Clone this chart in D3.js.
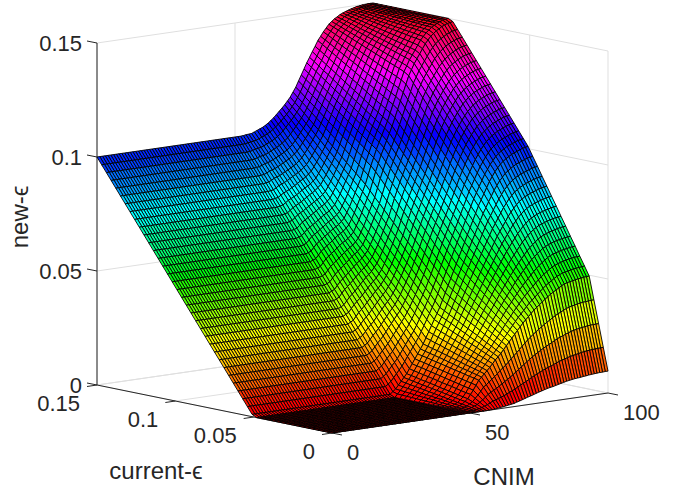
<!DOCTYPE html>
<html lang="en">
<head>
<meta charset="UTF-8">
<title>new-eps surface</title>
<script src="https://d3js.org/d3.v7.min.js"></script>
<style>
    body { margin: 0; padding: 0; background: #fff; }
    text { font-family: "Liberation Sans", Arial, sans-serif; fill: #262626; }
</style>
</head>
<body>
<div id="main"></div>
<script>
// axis ticks
var zTicks = [0, 0.05, 0.1, 0.15];
var zTickLabels = ['0', '0.05', '0.1', '0.15'];
var epsTicks = [0, 0.05, 0.1, 0.15];
var epsTickLabels = ['0', '0.05', '0.1', '0.15'];
var cnimTicks = [0, 50, 100];
var cnimTickLabels = ['0', '50', '100'];

// grid of the surface: 51 current-eps rows, 101 CNIM columns
var epsGrid = d3.range(51).map(function(i) { return i * 0.003; });
var cnimGrid = d3.range(101);

// new-eps x 10000. one row per current-eps,
// columns are CNIM 50,51..100. left of CNIM 50 the surface does not change
var newEps = [
[0,0,0,0,0,0,0,1,1,2,3,5,6,8,10,12,14,18,21,25,29,33,36,40,44,48,51,55,58,61,63,66,69,72,75,78,80,82,84,85,86,88,89,91,92,93,94,95,95,96,96],
[0,0,1,2,4,6,9,13,18,24,30,34,38,42,47,52,58,63,69,76,83,89,95,102,109,115,121,127,133,138,143,147,152,157,162,166,170,173,177,179,182,184,187,189,191,192,193,194,195,195,196],
[0,1,3,5,8,13,18,26,35,45,56,63,70,77,85,93,101,109,117,126,136,145,155,164,174,183,192,200,208,215,223,229,236,242,249,255,261,265,270,274,279,282,285,287,289,291,293,294,295,295,296],
[0,2,4,7,11,18,26,39,52,67,83,92,102,112,122,133,145,155,165,177,190,201,213,225,238,250,262,272,283,292,302,310,319,327,335,343,351,357,363,369,375,379,383,385,388,390,392,393,394,395,396],
[0,2,5,10,15,25,35,52,69,89,109,121,134,146,159,173,188,200,213,228,243,258,273,288,303,317,332,344,357,369,382,392,402,412,422,431,441,448,456,463,471,476,481,483,486,488,491,492,494,495,496],
[0,3,7,12,18,28,39,56,74,94,114,127,140,153,167,182,197,210,224,240,257,273,289,305,321,337,353,366,380,394,408,419,431,442,453,464,475,483,492,500,508,513,519,521,524,527,530,531,533,534,536],
[0,4,9,15,22,32,43,60,78,98,118,132,146,160,175,191,207,221,236,253,270,287,305,322,339,356,373,388,404,419,434,447,460,472,485,497,509,518,527,536,545,550,556,559,563,566,569,571,573,574,575],
[0,5,11,18,25,36,48,65,83,103,123,137,152,167,182,199,216,231,247,265,284,302,321,339,358,376,394,410,427,443,460,474,489,502,516,529,542,552,563,572,582,588,594,597,601,604,607,609,612,613,615],
[0,6,13,21,29,40,52,70,88,108,128,142,157,173,190,208,226,242,258,277,297,317,337,356,376,395,414,432,450,468,486,502,518,533,548,562,576,587,599,608,618,624,631,635,640,643,646,648,651,652,654],
[0,7,15,23,32,44,56,74,92,112,132,147,163,180,198,216,235,252,270,290,311,332,353,373,394,414,435,454,474,493,512,529,547,563,579,594,610,622,634,644,655,662,669,673,678,681,685,688,691,692,694],
[0,8,17,26,36,48,60,78,97,117,137,153,169,187,206,225,244,262,281,303,325,347,369,390,412,434,456,476,497,517,538,557,576,593,610,627,644,657,670,681,692,699,707,711,716,720,724,727,730,731,733],
[0,9,18,28,39,52,65,83,102,122,142,158,175,194,213,233,254,273,292,315,338,361,384,407,431,453,476,498,520,542,564,585,606,624,642,659,677,691,706,717,729,736,744,749,755,758,762,765,769,771,773],
[0,10,20,31,43,56,69,88,107,127,147,164,181,201,221,242,263,283,303,327,352,376,400,424,449,473,497,520,543,566,590,612,635,654,673,692,711,726,742,754,766,774,782,787,793,797,801,804,808,810,812],
[0,11,22,34,46,59,73,92,111,131,151,169,187,208,229,250,272,293,315,340,366,391,416,441,467,492,518,542,567,591,616,640,664,684,704,724,745,761,777,790,803,811,820,825,831,835,840,844,848,850,852],
[0,12,24,37,50,63,77,96,116,136,156,174,193,215,237,259,282,304,326,352,379,405,432,458,485,511,538,564,590,616,642,667,693,714,736,757,779,796,813,826,840,848,857,863,870,874,879,883,887,889,891],
[0,13,26,39,53,67,82,101,121,141,161,179,198,221,244,267,291,314,337,365,393,420,448,476,504,531,559,586,613,640,668,695,722,744,767,789,812,830,849,862,876,885,895,901,908,912,917,921,926,928,931],
[0,14,28,42,57,71,86,105,125,145,165,184,204,228,252,276,300,324,349,377,406,435,464,493,522,550,579,608,637,665,694,722,751,775,799,822,846,865,884,898,913,922,932,939,947,951,956,961,966,968,970],
[10,20,30,45,60,75,90,110,130,150,170,190,210,235,260,285,310,335,360,390,420,450,480,510,540,570,600,630,660,690,720,750,780,805,830,855,880,900,920,935,950,960,970,977,985,990,995,1000,1005,1007,1010],
[40,49,59,74,89,104,119,138,158,177,196,215,235,259,283,308,333,358,384,414,444,474,505,535,566,596,626,656,686,716,746,776,807,832,858,883,908,928,948,963,979,989,999,1007,1015,1020,1025,1030,1035,1037,1040],
[70,79,89,104,119,133,148,166,185,204,223,241,259,282,306,331,356,382,408,438,468,499,530,560,591,621,651,681,711,742,773,803,834,860,886,911,936,956,976,992,1008,1018,1029,1036,1044,1049,1055,1060,1065,1067,1070],
[100,109,118,133,148,162,176,194,213,231,249,266,284,306,329,354,379,405,431,461,491,523,555,586,617,647,677,707,737,768,799,830,861,887,914,939,964,984,1004,1020,1036,1047,1058,1066,1074,1079,1085,1090,1095,1097,1100],
[130,138,147,162,177,191,205,222,240,257,275,292,309,331,353,378,403,429,455,485,515,547,580,611,643,673,703,732,762,793,825,856,888,915,943,968,993,1013,1033,1049,1065,1076,1087,1095,1104,1109,1115,1120,1125,1127,1130],
[160,168,177,192,207,220,234,251,268,284,301,317,333,354,376,401,426,452,479,509,539,572,605,636,668,698,728,758,788,819,851,882,914,942,971,996,1021,1041,1061,1077,1094,1105,1117,1125,1133,1139,1145,1150,1155,1157,1160],
[190,198,206,221,236,249,263,279,295,311,328,343,358,378,399,424,449,476,503,533,563,596,630,662,694,724,754,784,814,846,878,909,941,970,999,1024,1049,1069,1089,1106,1123,1134,1146,1154,1163,1169,1175,1180,1185,1187,1190],
[220,228,236,251,266,278,291,307,323,338,354,368,383,402,422,447,472,499,526,556,586,620,655,687,719,749,779,809,839,871,904,936,968,997,1027,1052,1077,1097,1117,1134,1151,1163,1176,1184,1193,1199,1205,1210,1215,1217,1220],
[250,257,265,280,295,307,320,335,350,365,380,394,408,426,445,470,495,522,550,580,610,645,680,712,745,775,805,835,865,897,930,962,995,1025,1055,1080,1105,1125,1145,1162,1180,1192,1205,1214,1223,1229,1235,1240,1245,1247,1250],
[280,287,294,309,324,336,349,363,378,392,406,419,432,450,468,493,518,546,574,604,634,669,705,738,771,801,831,861,891,923,956,989,1022,1052,1083,1108,1133,1153,1173,1191,1209,1221,1234,1243,1252,1258,1265,1270,1275,1277,1280],
[310,317,324,339,354,366,378,391,405,419,433,445,457,474,491,516,541,569,598,628,658,694,730,763,796,826,856,886,916,949,983,1016,1049,1080,1111,1136,1161,1181,1201,1219,1238,1251,1264,1273,1282,1288,1295,1300,1305,1307,1310],
[340,346,353,368,383,394,406,419,433,446,459,470,482,498,514,539,564,592,621,651,681,718,755,788,822,852,882,912,942,975,1009,1042,1076,1107,1139,1164,1189,1209,1229,1247,1266,1279,1293,1302,1312,1318,1325,1330,1335,1337,1340],
[370,376,383,398,413,424,435,447,460,472,485,495,506,522,538,563,588,616,645,675,705,742,780,814,848,878,908,938,968,1001,1035,1069,1103,1135,1168,1193,1218,1238,1258,1276,1295,1309,1323,1332,1341,1348,1355,1360,1365,1367,1370],
[400,406,412,427,442,453,464,476,488,499,511,521,531,546,561,586,611,640,669,699,729,767,805,839,873,903,933,963,993,1027,1061,1095,1129,1162,1196,1221,1246,1266,1286,1305,1324,1338,1352,1361,1371,1378,1385,1390,1395,1397,1400],
[430,435,441,456,471,482,493,504,515,526,538,547,556,570,584,609,634,663,693,723,753,791,830,864,899,929,959,989,1019,1053,1088,1122,1156,1190,1224,1249,1274,1294,1314,1333,1353,1367,1381,1391,1401,1408,1415,1420,1425,1427,1430],
[460,465,471,486,501,511,521,532,543,553,564,572,580,593,607,632,657,686,716,746,776,815,855,889,924,954,984,1014,1044,1079,1114,1148,1183,1217,1252,1277,1302,1322,1342,1361,1381,1396,1411,1420,1430,1437,1445,1450,1455,1457,1460],
[490,495,500,515,530,540,550,560,570,580,590,597,605,617,630,655,680,710,740,770,800,840,880,915,950,980,1010,1040,1070,1105,1140,1175,1210,1245,1280,1305,1330,1350,1370,1390,1410,1425,1440,1450,1460,1467,1475,1480,1485,1487,1490],
[520,525,530,544,559,569,579,588,598,608,618,625,633,645,657,681,706,735,765,794,824,863,902,936,971,1000,1030,1059,1088,1122,1157,1191,1226,1260,1294,1318,1343,1362,1382,1402,1422,1436,1451,1461,1471,1478,1485,1490,1495,1497,1500],
[550,554,559,573,587,596,606,615,624,633,643,650,658,670,682,706,730,758,787,815,844,881,919,953,987,1016,1046,1074,1103,1136,1170,1203,1237,1270,1303,1326,1350,1369,1388,1407,1426,1439,1453,1463,1473,1479,1486,1490,1495,1497,1500],
[580,584,589,602,615,623,632,641,650,659,669,676,684,695,707,730,753,780,808,836,864,900,937,970,1003,1032,1061,1089,1118,1151,1184,1216,1248,1280,1312,1334,1357,1375,1393,1411,1429,1442,1456,1465,1474,1480,1487,1491,1496,1498,1500],
[610,614,618,630,642,650,659,667,676,685,694,701,709,721,733,755,777,803,830,856,883,918,954,987,1020,1048,1077,1104,1132,1164,1197,1228,1260,1290,1320,1342,1364,1381,1399,1416,1433,1445,1458,1467,1476,1481,1487,1491,1496,1498,1500],
[640,643,647,658,670,678,686,694,702,711,720,727,735,746,758,779,801,826,851,877,903,937,972,1004,1036,1064,1092,1119,1147,1178,1210,1240,1271,1300,1329,1350,1371,1387,1404,1420,1437,1448,1460,1468,1477,1482,1488,1492,1496,1498,1500],
[670,673,677,687,698,705,712,720,728,736,745,752,760,771,783,803,824,848,873,898,923,956,989,1020,1052,1080,1108,1135,1162,1193,1224,1253,1282,1310,1338,1358,1378,1394,1410,1425,1440,1451,1463,1471,1479,1484,1489,1493,1497,1498,1500],
[700,703,706,715,725,732,739,746,754,762,771,778,786,797,808,828,848,871,894,918,943,974,1006,1037,1068,1096,1124,1150,1177,1207,1237,1265,1293,1320,1347,1366,1385,1400,1415,1429,1444,1454,1465,1472,1480,1485,1490,1493,1497,1498,1500],
[730,733,736,744,753,759,765,772,780,788,796,803,811,822,833,852,872,894,916,939,962,993,1024,1054,1084,1111,1139,1165,1192,1221,1250,1277,1304,1330,1356,1374,1392,1406,1421,1434,1447,1457,1467,1474,1482,1486,1491,1494,1497,1498,1500],
[760,762,765,773,781,786,792,799,806,814,822,829,837,848,859,877,896,916,937,959,982,1011,1041,1071,1101,1128,1155,1180,1206,1235,1264,1290,1316,1340,1364,1381,1399,1412,1426,1438,1451,1460,1469,1476,1483,1487,1491,1494,1497,1498,1500],
[790,792,794,801,809,814,819,826,833,840,847,854,862,873,884,901,919,939,959,980,1002,1030,1058,1087,1117,1144,1171,1196,1221,1249,1277,1302,1327,1350,1373,1389,1406,1419,1432,1443,1455,1463,1472,1478,1485,1488,1492,1495,1498,1499,1500],
[820,822,824,830,837,841,845,852,859,865,872,879,887,898,909,926,943,962,981,1001,1022,1049,1076,1104,1133,1159,1186,1211,1236,1263,1290,1314,1338,1360,1382,1397,1413,1425,1437,1447,1458,1466,1474,1480,1486,1489,1493,1495,1498,1499,1500],
[850,851,853,858,864,868,872,878,885,891,898,905,913,923,934,950,967,984,1002,1021,1041,1067,1093,1121,1149,1175,1202,1226,1251,1277,1303,1326,1349,1370,1391,1405,1420,1431,1443,1452,1462,1469,1476,1482,1488,1491,1494,1496,1498,1499,1500],
[880,881,883,887,892,895,899,905,911,917,923,930,938,948,959,974,990,1007,1024,1042,1061,1086,1111,1138,1165,1191,1218,1242,1266,1291,1317,1338,1360,1380,1400,1413,1427,1437,1448,1457,1466,1472,1479,1484,1489,1492,1495,1497,1499,1499,1500],
[910,911,912,916,920,922,925,931,937,943,949,956,964,974,984,999,1014,1029,1045,1063,1081,1104,1128,1154,1181,1207,1233,1256,1280,1305,1330,1350,1371,1390,1409,1421,1434,1444,1454,1461,1469,1475,1481,1486,1491,1493,1496,1497,1499,1499,1500],
[940,940,941,944,948,950,952,957,963,968,974,981,989,999,1010,1024,1038,1052,1067,1084,1101,1123,1145,1171,1198,1223,1249,1272,1295,1319,1343,1363,1383,1400,1417,1429,1441,1450,1459,1466,1473,1478,1483,1487,1492,1494,1496,1497,1499,1499,1500],
[970,970,971,973,975,977,979,984,989,994,1000,1007,1015,1025,1035,1048,1061,1074,1088,1104,1120,1141,1163,1188,1214,1239,1264,1287,1310,1333,1357,1375,1394,1410,1426,1437,1448,1456,1465,1470,1476,1481,1486,1490,1494,1495,1497,1498,1500,1500,1500],
[1000,1000,1000,1001,1003,1004,1005,1010,1015,1020,1025,1032,1040,1050,1060,1072,1085,1097,1110,1125,1140,1160,1180,1205,1230,1255,1280,1302,1325,1347,1370,1387,1405,1420,1435,1445,1455,1462,1470,1475,1480,1484,1488,1491,1495,1496,1498,1499,1500,1500,1500]
];

function zAt(i, j) {
    return newEps[i][Math.max(0, j - 50)] / 10000;
}

var width = 691, height = 491;

var svg = d3.select('#main').append('svg')
    .attr('width', width)
    .attr('height', height)
    .style('display', 'block');

// oblique axes: each data axis moves a point in x and in y
var cnimX = d3.scaleLinear().domain([0, 100]).range([0, 276]);
var cnimY = d3.scaleLinear().domain([0, 100]).range([0, -40]);
var epsX = d3.scaleLinear().domain([0, 0.15]).range([0, -235]);
var epsY = d3.scaleLinear().domain([0, 0.15]).range([0, -48]);
var zY = d3.scaleLinear().domain([0, 0.15]).range([0, -342]);
var originX = 332, originY = 433;

function project(c, e, z) {
    return [originX + cnimX(c) + epsX(e), originY + cnimY(c) + epsY(e) + zY(z)];
}

var line = d3.line();

// 64 step hsv map over the z range
var colorMap = d3.scaleQuantize()
    .domain([0, 0.15])
    .range(d3.range(64).map(function(k) { return d3.hsl(k / 64 * 360, 1, 0.5).formatHex(); }));

// back walls and floor grid
var gridSegs = [];
zTicks.forEach(function(z) {
    gridSegs.push([project(0, 0.15, z), project(100, 0.15, z)]);
    gridSegs.push([project(100, 0.15, z), project(100, 0, z)]);
});
cnimTicks.forEach(function(c) {
    gridSegs.push([project(c, 0, 0), project(c, 0.15, 0)]);
    gridSegs.push([project(c, 0.15, 0), project(c, 0.15, 0.15)]);
});
epsTicks.forEach(function(e) {
    gridSegs.push([project(0, e, 0), project(100, e, 0)]);
    gridSegs.push([project(100, e, 0), project(100, e, 0.15)]);
});

svg.append('g').selectAll('path')
    .data(gridSegs)
    .enter()
    .append('path')
    .attr('d', line)
    .attr('fill', 'none')
    .attr('stroke', '#dfdfdf')
    .attr('stroke-width', 1);

// axis lines
var axisSegs = [
    [project(0, 0.15, 0), project(0, 0.15, 0.15)],
    [project(0, 0.15, 0), project(0, 0, 0)],
    [project(0, 0, 0), project(100, 0, 0)]
];
zTicks.forEach(function(z) {
    var p = project(0, 0.15, z);
    axisSegs.push([p, [p[0] - 10, p[1] - 2]]);
});
epsTicks.forEach(function(e) {
    var p = project(0, e, 0);
    axisSegs.push([p, [p[0] - 10, p[1] + 1.5]]);
});
cnimTicks.forEach(function(c) {
    var p = project(c, 0, 0);
    axisSegs.push([p, [p[0] + 10, p[1] + 2]]);
});

svg.append('g').selectAll('path')
    .data(axisSegs)
    .enter()
    .append('path')
    .attr('d', line)
    .attr('fill', 'none')
    .attr('stroke', '#262626')
    .attr('stroke-width', 1);

// surface cells, far corner first
var cells = [];
for (var i = epsGrid.length - 2; i >= 0; i--) {
    for (var j = cnimGrid.length - 2; j >= 0; j--) {
        cells.push({
            color: colorMap(Math.min(zAt(i, j), 0.14999)),
            pts: [
                project(cnimGrid[j], epsGrid[i], zAt(i, j)),
                project(cnimGrid[j + 1], epsGrid[i], zAt(i, j + 1)),
                project(cnimGrid[j + 1], epsGrid[i + 1], zAt(i + 1, j + 1)),
                project(cnimGrid[j], epsGrid[i + 1], zAt(i + 1, j))
            ]
        });
    }
}

svg.append('g').selectAll('path')
    .data(cells)
    .enter()
    .append('path')
    .attr('d', function(d) { return line(d.pts) + 'Z'; })
    .attr('fill', function(d) { return d.color; })
    .attr('stroke', '#000')
    .attr('stroke-width', 0.9)
    .attr('stroke-linejoin', 'round');

// tick labels
var tickSize = 22, labelSize = 24;

function addLabels(ticks, labels, toPoint, dx, dy, anchor) {
    svg.append('g').selectAll('text')
        .data(ticks)
        .enter()
        .append('text')
        .attr('x', function(d) { return toPoint(d)[0] + dx; })
        .attr('y', function(d) { return toPoint(d)[1] + dy; })
        .attr('dy', '0.36em')
        .attr('text-anchor', anchor)
        .attr('font-size', tickSize)
        .text(function(d, n) { return labels[n]; });
}

addLabels(zTicks, zTickLabels, function(z) { return project(0, 0.15, z); }, -15, 0, 'end');
addLabels(epsTicks, epsTickLabels, function(e) { return project(0, e, 0); }, -17, 18, 'end');
addLabels(cnimTicks, cnimTickLabels, function(c) { return project(c, 0, 0); }, 15, 19, 'start');

svg.append('text')
    .attr('x', 156).attr('y', 479)
    .attr('text-anchor', 'middle')
    .attr('font-size', labelSize)
    .text('current-\u03f5');

svg.append('text')
    .attr('x', 504).attr('y', 485)
    .attr('text-anchor', 'middle')
    .attr('font-size', labelSize)
    .text('CNIM');

svg.append('text')
    .attr('transform', 'translate(28,217) rotate(-90)')
    .attr('text-anchor', 'middle')
    .attr('font-size', labelSize)
    .text('new-\u03f5');
</script>
</body>
</html>
